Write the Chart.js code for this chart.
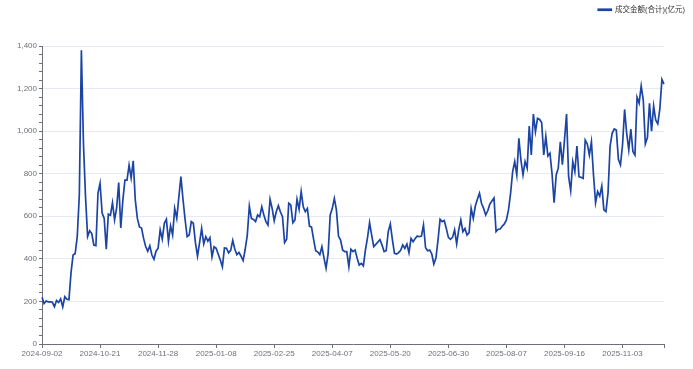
<!DOCTYPE html>
<html>
<head>
<meta charset="utf-8">
<script src="https://cdn.jsdelivr.net/npm/chart.js@4.4.1/dist/chart.umd.min.js"></script>
<style>
  html, body { margin: 0; padding: 0; background: #fff; }
</style>
</head>
<body>
<canvas id="lineChart" width="693" height="369"></canvas>
<script>
/* DATA */
const seriesName = '成交金额(合计)(亿元)';
const firstDay = '2024-09-02';
const dayCount = 301;
// weekdays with no trading (SSE/SZSE calendar)
const holidays = [
    '2024-09-16', '2024-09-17', '2024-10-01', '2024-10-02', '2024-10-03', '2024-10-04', '2024-10-07',
    '2025-01-01', '2025-01-28', '2025-01-29', '2025-01-30', '2025-01-31', '2025-02-03', '2025-02-04',
    '2025-04-04', '2025-05-01', '2025-05-02', '2025-05-05', '2025-06-02',
    '2025-10-01', '2025-10-02', '2025-10-03', '2025-10-06', '2025-10-07', '2025-10-08'
];
const amount = [
    220, 190, 202, 198, 198, 196, 175, 204, 195, 212, 174, 222, 210, 208, 335, 418, 425, 504, 700, 1380,
    940, 690, 505, 532, 519, 465, 462, 709, 755, 615, 590, 445, 610, 605, 664, 583, 640, 758, 545, 676,
    770, 770, 840, 780, 861, 676, 590, 550, 545, 496, 458, 436, 462, 418, 398, 436, 450, 536, 493, 567,
    586, 483, 555, 512, 637, 590, 690, 786, 680, 586, 504, 512, 575, 567, 476, 413, 476, 543, 470, 504,
    483, 500, 410, 457, 450, 422, 395, 363, 451, 450, 428, 440, 487, 445, 420, 430, 413, 392, 445, 510,
    648, 590, 585, 575, 606, 598, 645, 606, 575, 559, 680, 637, 579, 622, 650, 620, 598, 476, 492, 661,
    653, 570, 583, 680, 633, 716, 645, 622, 637, 554, 549, 492, 438, 432, 420, 457, 405, 356, 423, 606,
    636, 684, 630, 507, 488, 442, 434, 434, 363, 445, 434, 442, 403, 371, 379, 367, 442, 500, 570, 512,
    457, 468, 479, 490, 465, 434, 438, 528, 564, 490, 426, 423, 429, 440, 465, 449, 470, 429, 496, 481,
    496, 507, 504, 507, 559, 452, 438, 441, 423, 376, 404, 488, 586, 575, 580, 543, 501, 492, 501, 536,
    470, 536, 583, 528, 543, 512, 523, 637, 590, 648, 680, 708, 660, 637, 606, 626, 657, 672, 686, 528,
    539, 540, 554, 564, 583, 630, 708, 810, 857, 794, 966, 864, 794, 857, 826, 1024, 888, 1080, 997, 1060,
    1055, 1040, 888, 975, 883, 896, 800, 664, 794, 826, 950, 842, 958, 1080, 786, 720, 857, 810, 930, 786,
    783, 778, 958, 940, 888, 950, 794, 664, 716, 695, 742, 630, 622, 710, 930, 990, 1010, 1005, 868, 842,
    935, 1102, 990, 912, 1010, 905, 888, 1159, 1131, 1212, 1146, 940, 970, 1131, 1000, 1118, 1052, 1034, 1105, 1243, 1221
];
const labelEvery = 28;
const yMax = 1400;
const yLabelStep = 200;
const yMinorStep = 40;

// trading-day labels
const dates = [];
let d = new Date(firstDay + 'T00:00:00Z');
while (dates.length < dayCount) {
    const s = d.toISOString().slice(0, 10);
    const wd = d.getUTCDay();
    if (wd !== 0 && wd !== 6 && !holidays.includes(s)) dates.push(s);
    d.setUTCDate(d.getUTCDate() + 1);
}

Chart.defaults.font.family = '"Liberation Sans", "Noto Sans CJK SC", sans-serif';
Chart.defaults.font.size = 8;
Chart.defaults.color = '#6e7079';

// room above the plot, legend pushed to the right edge
const legendSpace = {
    id: 'legendSpace',
    beforeInit(chart) {
        const fit = chart.legend.fit;
        chart.legend.fit = function () {
            fit.call(this);
            this.height = 46;
        };
    },
    afterLayout(chart) {
        chart.legend.left += 27;
        chart.legend.right += 27;
    }
};

/* LINE GRAPH */
new Chart(document.getElementById('lineChart'), {
    type: 'line',
    data: {
        labels: dates,
        datasets: [{
            label: seriesName,
            data: amount,
            borderColor: '#1c44a4',
            backgroundColor: '#1c44a4',
            borderWidth: 1.7,
            pointRadius: 0,
            tension: 0
        }]
    },
    options: {
        responsive: false,
        animation: false,
        layout: { padding: { left: 0, right: 29, top: 0, bottom: 0 } },
        plugins: {
            tooltip: { enabled: false },
            legend: {
                position: 'top',
                align: 'end',
                labels: {
                    boxWidth: 13,
                    boxHeight: 1,
                    padding: 6,
                    color: '#333',
                    font: { size: 7.5 }
                }
            }
        },
        scales: {
            x: {
                type: 'category',
                offset: false,
                afterFit: s => { s.height = 25; },
                afterBuildTicks: s => {
                    s.ticks = s.ticks.filter(t => t.value % labelEvery === 0 || t.value === dayCount - 1);
                },
                ticks: {
                    autoSkip: false,
                    maxRotation: 0,
                    padding: 1,
                    callback: function (v) { return v === dayCount - 1 ? '' : this.getLabelForValue(v); }
                },
                grid: { drawOnChartArea: false, drawTicks: true, tickLength: 4, tickColor: '#6e7079' },
                border: { color: '#6e7079', width: 1 }
            },
            y: {
                min: 0,
                max: yMax,
                afterFit: s => { s.width = 42; },
                ticks: {
                    stepSize: yMinorStep,
                    autoSkip: false,
                    padding: 2,
                    callback: v => v % yLabelStep === 0 ? v.toLocaleString('en-US') : ''
                },
                grid: {
                    color: c => (c.tick && c.tick.value % yLabelStep === 0 && c.tick.value > 0) ? '#e6eaf3' : 'rgba(0,0,0,0)',
                    tickColor: '#6e7079',
                    tickLength: 3
                },
                border: { color: '#6e7079', width: 1 }
            }
        }
    },
    plugins: [legendSpace]
});
</script>
</body>
</html>
